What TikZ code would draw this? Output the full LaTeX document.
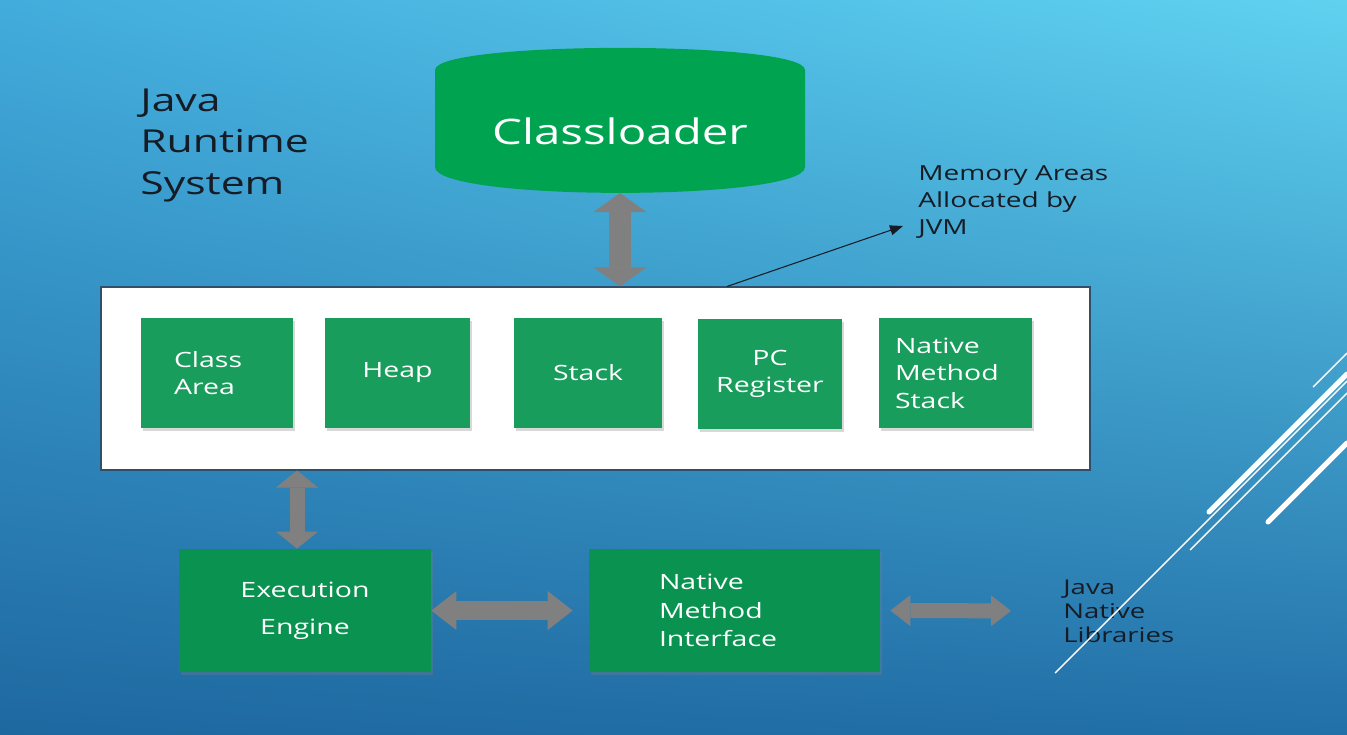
\documentclass[tikz,border=0pt]{standalone}
\usepackage{fontspec}
\setmainfont{Open Sans}[FakeStretch=1.35]
\usepackage{tikz}
\usetikzlibrary{arrows.meta}
\usetikzlibrary{positioning}
\usetikzlibrary{shadings}
\usetikzlibrary{shadows}
\definecolor{bgUL}{HTML}{42ACDC}
\definecolor{bgUR}{HTML}{60D2F0}
\definecolor{bgLL}{HTML}{1E68A0}
\definecolor{bgLR}{HTML}{2270A8}
\definecolor{loaderGreen}{HTML}{00A350}
\definecolor{areaGreen}{HTML}{189D5C}
\definecolor{engineGreen}{HTML}{0A9250}
\definecolor{arrowGray}{HTML}{808080}
\definecolor{darkText}{HTML}{161C26}
\definecolor{memBorder}{HTML}{2F4F6A}

\begin{document}
\begin{tikzpicture}[inner sep=0pt,
  areabox/.style={fill=areaGreen, text=white, align=left, minimum height=2.2cm,
    font=\fontsize{12}{15.6}\selectfont,
    drop shadow={shadow xshift=0.03cm, shadow yshift=-0.05cm, opacity=0.3}},
  enginebox/.style={fill=engineGreen, text=white, align=center, minimum height=2.46cm,
    drop shadow={shadow xshift=0.03cm, shadow yshift=-0.05cm, opacity=0.3}},
  dark/.style={text=darkText, align=left, anchor=west},
  fatarrow/.style n args={3}{draw=arrowGray, line width=#1,
    {Triangle[length=#2,width=#3,line width=0pt]}-{Triangle[length=#2,width=#3,line width=0pt]}},
  decothick/.style={white, line width=0.1cm, line cap=round},
  decothin/.style={white, line width=0.8pt}]
  \useasboundingbox (0,0) rectangle (26.94,14.68);
  \shade[upper left=bgUL, upper right=bgUR, lower left=bgLL, lower right=bgLR]
    (0,0) rectangle (26.94,14.68);

  %% title
  \node (jrs) [dark, font=\fontsize{18}{23.8}\selectfont] at (2.8,11.77) {Java\\Runtime\\System};

  %% classloader
  \fill[loaderGreen] (8.7,11.34) -- (8.7,13.28) .. controls (8.7,13.87) and (16.1,13.87) .. (16.1,13.28)
    -- (16.1,11.34) .. controls (16.1,10.65) and (8.7,10.65) .. cycle;
  \node (cl) [text=white, font=\fontsize{20}{24}\selectfont] at (12.4,12.05) {Classloader};
  \coordinate (clbase) at (12.4,10.82);

  %% memory areas
  \node (mem) [draw=memBorder, fill=white, line width=0.6pt,
    minimum width=19.78cm, minimum height=3.66cm] at (11.91,7.11) {};
  \node (ca) [areabox, minimum width=3.04cm, text width=1.72cm] at (4.34,7.22) {Class\\Area};
  \node (heap) [areabox, minimum width=2.9cm] at (7.95,7.22) {Heap};
  \node (stack) [areabox, minimum width=2.96cm] at (11.76,7.22) {Stack};
  \node (pc) [areabox, minimum width=2.88cm, align=center] at (15.4,7.2) {PC\\Register};
  \node (nms) [areabox, minimum width=3.06cm, text width=2.42cm] at (19.11,7.22) {Native\\Method\\Stack};

  % label
  \node (alloc) [dark, font=\fontsize{11.8}{15.3}\selectfont] at (18.36,10.64)
    {Memory Areas\\Allocated by\\JVM};
  \coordinate (alloctip) at (18.06,10.16);
  \draw[draw=darkText, line width=0.6pt, -{Triangle[length=0.26cm,width=0.2cm]}]
    (14.54,0 |- mem.north) -- (alloctip);

  %% execution
  \node (ee) [enginebox, minimum width=5.04cm, font=\fontsize{12}{21}\selectfont] at (6.1,2.47)
    {Execution\\Engine};
  \node (nmi) [enginebox, minimum width=5.82cm, text width=3.02cm, align=left,
    font=\fontsize{12}{16.4}\selectfont] at (14.69,2.47) {Native\\Method\\Interface};
  \node (jnl) [dark, font=\fontsize{11.6}{13.6}\selectfont] at (21.26,2.46) {Java\\Native\\Libraries};

  % connectors
  \draw[fatarrow={0.44cm}{0.38cm}{1.06cm}] (clbase) -- (cl.south |- mem.north);
  \coordinate (eetop) at ([xshift=-0.16cm]ee.north);
  \draw[fatarrow={0.3cm}{0.34cm}{0.84cm}] (eetop |- mem.south) -- (eetop);
  \draw[fatarrow={0.38cm}{0.5cm}{0.78cm}, shorten >=0.32cm] (ee.east) -- (nmi.west);
  \draw[fatarrow={0.3cm}{0.4cm}{0.62cm}, shorten <=0.2cm, shorten >=1.04cm] (nmi.east) -- (jnl.west);

  %% slide lines
  \draw[decothick] (24.18,4.44) -- (26.94,7.2);
  \draw[decothick] (25.36,4.24) -- (26.94,5.82);
  \draw[decothin] (26.26,6.94) -- (26.94,7.62);
  \draw[decothin] (23.8,3.68) -- (26.94,6.82);
  \draw[decothin] (21.1,1.22) -- (26.94,7.06);
\end{tikzpicture}
\end{document}
